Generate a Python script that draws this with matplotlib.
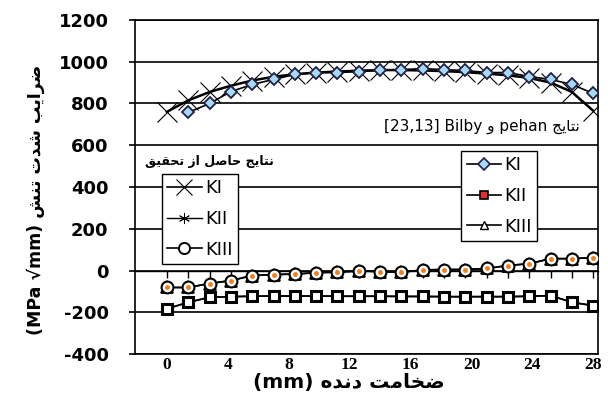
import matplotlib
matplotlib.use("Agg")
import matplotlib.pyplot as plt
from matplotlib.lines import Line2D

# ---------------- data ----------------
t_all = [0, 1.4, 2.8, 4.2, 5.6, 7.0, 8.4, 9.8, 11.2, 12.6, 14.0, 15.4, 16.8,
         18.2, 19.6, 21.0, 22.4, 23.8, 25.2, 26.6, 28.0]
t_bilby_ki = t_all[1:]

# research (this study)
ki_research = [760, 815, 855, 885, 910, 928, 940, 948, 953, 957, 960, 960,
               958, 955, 950, 943, 935, 922, 900, 855, 765]
kii_research = [-183, -152, -128, -125, -123, -122, -122, -122, -123, -123,
                -123, -124, -124, -125, -125, -125, -125, -123, -120, -152, -168]
kiii_research = [-81, -81, -62, -48, -24, -19, -17, -10, -8, -2, -5, -8, 3,
                 5, 5, 10, 24, 33, 57, 57, 62]

# pehan & Bilby
ki_bilby = [757, 800, 857, 891, 915, 939, 948, 948, 953, 958, 962, 967, 962,
            958, 948, 948, 929, 915, 891, 848]
kii_bilby = [-183, -152, -128, -125, -123, -122, -122, -122, -123, -123,
             -123, -124, -124, -125, -125, -125, -125, -123, -120, -152, -168]
kiii_bilby = [-81, -81, -62, -48, -24, -19, -17, -10, -8, -2, -5, -8, 3,
              5, 5, 10, 24, 33, 57, 57, 62]

x_ticks = [0, 4, 8, 12, 16, 20, 24, 28]
y_ticks = [-400, -200, 0, 200, 400, 600, 800, 1000, 1200]
minor_ticks = t_all

# ---------------- minimal Persian shaping ----------------
FORMS = {
    'ا': ('\ufe8d', '\ufe8e', None, None),
    'ب': ('\ufe8f', '\ufe90', '\ufe91', '\ufe92'),
    'ت': ('\ufe95', '\ufe96', '\ufe97', '\ufe98'),
    'ج': ('\ufe9d', '\ufe9e', '\ufe9f', '\ufea0'),
    'ح': ('\ufea1', '\ufea2', '\ufea3', '\ufea4'),
    'خ': ('\ufea5', '\ufea6', '\ufea7', '\ufea8'),
    'د': ('\ufea9', '\ufeaa', None, None),
    'ر': ('\ufead', '\ufeae', None, None),
    'ز': ('\ufeaf', '\ufeb0', None, None),
    'ش': ('\ufeb5', '\ufeb6', '\ufeb7', '\ufeb8'),
    'ص': ('\ufeb9', '\ufeba', '\ufebb', '\ufebc'),
    'ض': ('\ufebd', '\ufebe', '\ufebf', '\ufec0'),
    'ق': ('\ufed5', '\ufed6', '\ufed7', '\ufed8'),
    'ل': ('\ufedd', '\ufede', '\ufedf', '\ufee0'),
    'م': ('\ufee1', '\ufee2', '\ufee3', '\ufee4'),
    'ن': ('\ufee5', '\ufee6', '\ufee7', '\ufee8'),
    'ه': ('\ufee9', '\ufeea', '\ufeeb', '\ufeec'),
    'و': ('\ufeed', '\ufeee', None, None),
    'ی': ('\ufeef', '\ufef0', '\ufef3', '\ufef4'),
}


def rtl(s):
    out = []
    for i, c in enumerate(s):
        if c not in FORMS:
            out.append(c)
            continue
        f = FORMS[c]
        prev = s[i - 1] if i > 0 else ''
        nxt = s[i + 1] if i + 1 < len(s) else ''
        jp = prev in FORMS and FORMS[prev][2] is not None
        jn = nxt in FORMS and f[2] is not None
        if jp and jn:
            g = f[3]
        elif jp:
            g = f[1]
        elif jn:
            g = f[2]
        else:
            g = f[0]
        out.append(g)
    return ''.join(reversed(out))


plt.rcParams['font.family'] = ['DejaVu Sans']

fig = plt.figure(figsize=(6.08, 4.07), dpi=100)
ax = fig.add_axes([0.222, 0.130, 0.762, 0.821])

ax.set_xlim(-2.1, 28.33)
ax.set_ylim(-400, 1200)

for yv in y_ticks:
    ax.axhline(yv, color='black', lw=1.2, zorder=1)

# secondary axis crossing at y=0 with small tick marks
sec = ax.secondary_xaxis(0.25)
sec.set_xticks(minor_ticks)
sec.set_xticklabels([])
sec.tick_params(direction='out', length=5, width=1, color='black')
sec.spines['bottom'].set_linewidth(1.0)

# research series
ax.plot(t_all, ki_research, color='black', lw=1.8, marker='x', ms=14,
        mew=0.8, zorder=3)
ax.plot(t_all, kii_research, color='black', lw=1.2, marker=(6, 2, 0), ms=8,
        mew=0.8, zorder=3)
ax.plot(t_all, kiii_bilby, color='black', lw=1.2, marker='^', ms=8,
        mfc='white', mec='black', mew=1.3, zorder=4)
ax.plot(t_all, kiii_research, color='black', lw=1.2, marker='o', ms=8.5,
        mfc='white', mec='black', mew=1.5, zorder=4)
ax.plot(t_all, kiii_research, ls='none', marker='o', ms=2.5,
        mfc='#f08020', mec='#f08020', zorder=5)

# Bilby series
ax.plot(t_bilby_ki, ki_bilby, color='black', lw=1.2, marker='D', ms=6.5,
        mfc='#a8d8f8', mec='#202040', mew=1.3, zorder=5)
ax.plot(t_all, kii_bilby, color='black', lw=1.2, marker='s', ms=7,
        mfc='white', mec='black', mew=2.2, zorder=5)

# ticks and labels
ax.set_xticks(x_ticks)
ax.set_xticklabels([str(v) for v in x_ticks], fontfamily='Liberation Serif',
                   fontweight='bold', fontsize=12.5)
ax.set_yticks(y_ticks)
ax.set_yticklabels([str(v) for v in y_ticks], fontweight='bold', fontsize=13)
ax.tick_params(axis='x', length=0, pad=2)
ax.tick_params(axis='y', direction='out', length=4, width=1.2, pad=15)
for sp in ax.spines.values():
    sp.set_linewidth(1.2)

ax.set_xlabel('(mm) ' + rtl('ضخامت دنده'), fontsize=14.5, fontweight='bold')
ax.xaxis.set_label_coords(0.462, -0.058)
ax.set_ylabel('(MPa √mm) ' + rtl('ضرایب شدت تنش'), fontsize=12.5,
              fontweight='bold')
ax.yaxis.set_label_coords(-0.194, 0.461)

# annotations
ax.text(0.961, 0.680, '[23,13] Bilby ' + rtl('و') + ' pehan ' + rtl('نتایج'),
        transform=ax.transAxes, ha='right', va='center', fontsize=11,
        zorder=6)
ax.text(0.022, 0.575, rtl('نتایج حاصل از تحقیق'), transform=ax.transAxes,
        ha='left', va='center', fontsize=9, fontweight='bold', zorder=6)

# legends
h_left = [
    Line2D([], [], color='black', lw=1.2, marker='x', ms=12, mew=0.8),
    Line2D([], [], color='black', lw=1.0, marker=(6, 2, 0), ms=8, mew=0.6),
    Line2D([], [], color='black', lw=1.2, marker='o', ms=8, mfc='white',
           mec='black', mew=1.4),
]
leg1 = ax.legend(h_left, ['KI', 'KII', 'KIII'], loc='upper left',
                 bbox_to_anchor=(0.058, 0.539), fontsize=13, handlelength=1.9,
                 handletextpad=0.2, labelspacing=0.7, borderpad=0.3,
                 fancybox=False, framealpha=1, edgecolor='black',
                 borderaxespad=0)
leg1.get_frame().set_linewidth(1.0)
leg1.set_zorder(7)
ax.add_artist(leg1)

h_right = [
    Line2D([], [], color='black', lw=1.2, marker='D', ms=6, mfc='#a8d8f8',
           mec='#202040', mew=1.2),
    Line2D([], [], color='black', lw=1.2, marker='s', ms=6, mfc='#e03030',
           mec='black', mew=1.2),
    Line2D([], [], color='black', lw=1.2, marker='^', ms=6, mfc='white',
           mec='black', mew=1.0),
]
leg2 = ax.legend(h_right, ['KI', 'KII', 'KIII'], loc='upper left',
                 bbox_to_anchor=(0.704, 0.608), fontsize=13, handlelength=1.9,
                 handletextpad=0.2, labelspacing=0.7, borderpad=0.3,
                 fancybox=False, framealpha=1, edgecolor='black',
                 borderaxespad=0)
leg2.get_frame().set_linewidth(1.0)
leg2.set_zorder(7)

fig.savefig('out.png', dpi=100)
